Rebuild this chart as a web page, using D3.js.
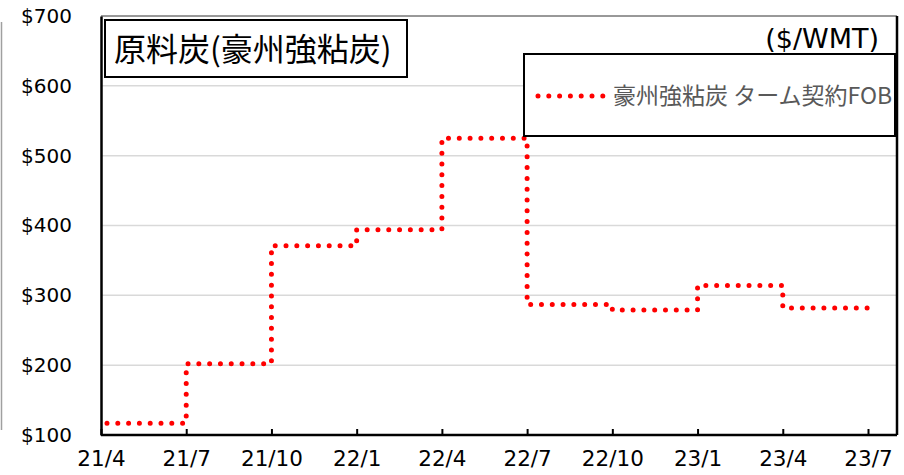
<!DOCTYPE html>
<html>
<head>
<meta charset="utf-8">
<script src="https://cdn.jsdelivr.net/npm/d3@7"></script>
<style>
  html, body { margin: 0; padding: 0; background: #fff; }
  svg { display: block; }
</style>
</head>
<body>
<div class="myChart"></div>
<script>
// データ
var quarters = ["21/4", "21/7", "21/10", "22/1", "22/4", "22/7", "22/10", "23/1", "23/4", "23/7"];
var prices = [117, 202, 371, 394, 525, 287, 279, 314, 282]; // 四半期ごとの価格 ($/WMT)
var yTicks = [100, 200, 300, 400, 500, 600, 700];
var seriesName = "豪州強粘炭 ターム契約FOB";
var titleText = "原料炭(豪州強粘炭)";
var unitText = "($/WMT)";

var width = 904, height = 475;
var plotL = 101, plotR = 897, plotT = 16, plotB = 435;
var numFont = "'DejaVu Sans', Verdana, sans-serif";
var jpFont = "'Noto Sans CJK JP', 'DejaVu Sans', sans-serif";

var svg = d3.select(".myChart").append("svg")
    .attr("width", width)
    .attr("height", height);

var x = d3.scalePoint().domain(quarters).range([plotL, 868]);
var y = d3.scaleLinear().domain([100, 700]).range([plotB, plotT]);

// 左端の灰色の線
svg.append("line")
    .attr("x1", 1.5).attr("x2", 1.5)
    .attr("y1", 22).attr("y2", 430)
    .attr("stroke", "#a0a0a0").attr("stroke-width", 1.5);

// グリッド線
svg.append("g").selectAll("line")
    .data(yTicks.filter(d => d > 100 && d < 700))
    .enter().append("line")
    .attr("x1", plotL).attr("x2", plotR)
    .attr("y1", d => y(d)).attr("y2", d => y(d))
    .attr("stroke", "#d9d9d9").attr("stroke-width", 1.5);

// 枠
svg.append("line").attr("x1", plotL).attr("x2", plotR).attr("y1", plotT).attr("y2", plotT)
    .attr("stroke", "#333").attr("stroke-width", 1);
svg.append("line").attr("x1", plotR).attr("x2", plotR).attr("y1", plotT).attr("y2", plotB)
    .attr("stroke", "#000").attr("stroke-width", 2.5);

// y軸
var yAxis = svg.append("g")
    .attr("transform", `translate(${plotL},0)`)
    .call(d3.axisLeft(y).tickValues(yTicks).tickSize(0).tickPadding(29).tickFormat(d => "$" + d));
yAxis.select(".domain").attr("stroke", "#000").attr("stroke-width", 2.5);
yAxis.selectAll("text").attr("font-family", numFont).attr("font-size", 20).attr("fill", "#000");

// x軸
var xAxis = svg.append("g")
    .attr("transform", `translate(0,${plotB})`)
    .call(d3.axisBottom(x).tickSize(-6).tickPadding(16));
xAxis.select(".domain").attr("stroke", "#000").attr("stroke-width", 2.5)
    .attr("d", `M${plotL},0H${plotR}`);
xAxis.selectAll(".tick line").attr("stroke", "#000").attr("stroke-width", 2);
xAxis.selectAll("text").attr("font-family", numFont).attr("font-size", 21.5).attr("fill", "#000");

// 階段状の線
var points = prices.map((v, i) => [quarters[i], v]);
points.push([quarters[quarters.length - 1], prices[prices.length - 1]]);
var line = d3.line()
    .x(d => x(d[0]))
    .y(d => y(d[1]))
    .curve(d3.curveStepAfter);
svg.append("path")
    .datum(points)
    .attr("d", line)
    .attr("fill", "none")
    .attr("stroke", "#ff0000")
    .attr("stroke-width", 5)
    .attr("stroke-linecap", "round")
    .attr("stroke-dasharray", "0 10.8")
    .attr("stroke-dashoffset", -6);

// タイトル
svg.append("rect")
    .attr("x", 105).attr("y", 20).attr("width", 302).attr("height", 57)
    .attr("fill", "#fff").attr("stroke", "#000").attr("stroke-width", 2);
svg.append("text")
    .attr("x", 114).attr("y", 61)
    .attr("font-family", jpFont).attr("font-size", 32).attr("fill", "#000")
    .text(titleText);

// 単位
svg.append("text")
    .attr("x", 879).attr("y", 48)
    .attr("text-anchor", "end")
    .attr("font-family", numFont).attr("font-size", 27).attr("fill", "#000")
    .text(unitText);

// 凡例
svg.append("rect")
    .attr("x", 524).attr("y", 54).attr("width", 371).attr("height", 82)
    .attr("fill", "#fff").attr("stroke", "#000").attr("stroke-width", 2);
svg.append("line")
    .attr("x1", 538).attr("x2", 606).attr("y1", 96).attr("y2", 96)
    .attr("stroke", "#ff0000").attr("stroke-width", 5)
    .attr("stroke-linecap", "round").attr("stroke-dasharray", "0 10.8");
svg.append("text")
    .attr("x", 613).attr("y", 104)
    .attr("font-family", jpFont).attr("font-size", 23).attr("fill", "#595959")
    .text(seriesName);
</script>
</body>
</html>
